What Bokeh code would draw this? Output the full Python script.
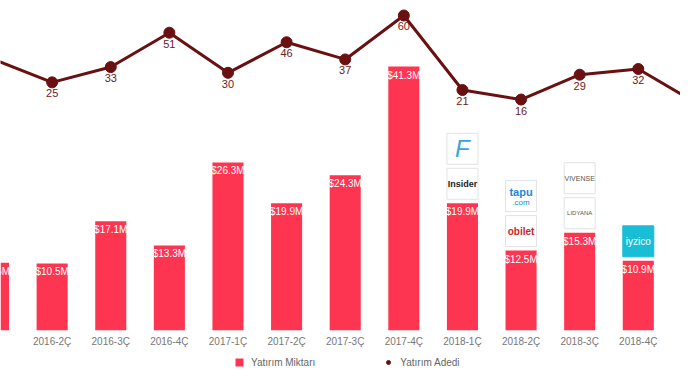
from bokeh.plotting import figure
from bokeh.layouts import column
from bokeh.models import Range1d, LinearAxis, FixedTicker, Legend, LegendItem, ColumnDataSource
from bokeh.core.properties import value
from bokeh.embed import file_html
from bokeh.resources import INLINE

# ---- data ----
quarters = ["2016-1Ç", "2016-2Ç", "2016-3Ç", "2016-4Ç", "2017-1Ç", "2017-2Ç", "2017-3Ç",
            "2017-4Ç", "2018-1Ç", "2018-2Ç", "2018-3Ç", "2018-4Ç", "2019-1Ç"]
amounts = [10.6, 10.5, 17.1, 13.3, 26.3, 19.9, 24.3, 41.3, 19.9, 12.5, 15.3, 10.9, 19.7]
counts = [37, 25, 33, 51, 30, 46, 37, 60, 21, 16, 29, 32, 14]
series_names = ["Yatırım Miktarı", "Yatırım Adedi"]

logo_quarter = ["2018-1Ç", "2018-1Ç", "2018-2Ç", "2018-2Ç", "2018-3Ç", "2018-3Ç", "2018-4Ç", "2019-1Ç"]
logo_slot = [1, 0, 1, 0, 1, 0, 0, 0]
logo_name = ["F", "Insider", "tapu", "obilet", "VIVENSE", "LIDYANA", "iyzico", "moda"]
logo_sub = ["", "", ".com", "", "", "", "", "."]

FONT = "Liberation Sans"
BAR_COLOR = "#fe3550"
LINE_COLOR = "#6a1010"

idx = list(range(len(quarters)))
amount_labels = [f"${a}M" for a in amounts]

FRAME_H = 330
Y_TOP = 51.63
p = figure(frame_width=680, frame_height=FRAME_H, x_range=Range1d(0.119, 11.72),
           y_range=Range1d(0, Y_TOP),
           x_axis_type=None, y_axis_type=None, output_backend="svg", toolbar_location=None,
           min_border_left=0, min_border_right=0, min_border_top=0, min_border_bottom=0,
           outline_line_color=None)
p.grid.visible = False

src = ColumnDataSource(dict(x=idx, amt=amounts, lab=amount_labels, cnt=counts,
                            clab=[str(c) for c in counts]))

bars = p.vbar(x="x", top="amt", width=0.53, source=src, fill_color=BAR_COLOR, line_color=None)
p.text(x="x", y="amt", text="lab", source=src, text_align="center", text_baseline="top",
       y_offset=3, text_color="white", text_font=value(FONT), text_font_size="10px")

# logos
ppu = FRAME_H / Y_TOP
lx, ly = [], []
for q, s in zip(logo_quarter, logo_slot):
    i = quarters.index(q)
    lx.append(i)
    ly.append(amounts[i] + (4 + 15.5 + s * 35) / ppu)
fills = {"iyzico": "#19bdd6"}
tcolors = {"F": "#3aa3dc", "Insider": "#222222", "tapu": "#1b87d6", "obilet": "#cc1f2a",
           "VIVENSE": "#555555", "LIDYANA": "#555555", "iyzico": "#ffffff", "moda": "#333333"}
subcolors = {"tapu": "#1b87d6", "moda": "#cc1f2a"}
tsizes = {"F": "24px", "Insider": "9px", "tapu": "11px", "obilet": "10px", "VIVENSE": "7px",
          "LIDYANA": "6px", "iyzico": "10px", "moda": "8px"}
styles = {"F": "italic", "Insider": "bold", "tapu": "bold", "obilet": "bold", "VIVENSE": "normal",
          "LIDYANA": "normal", "iyzico": "normal", "moda": "normal"}
lsrc = ColumnDataSource(dict(x=lx, y=ly, name=logo_name, sub=logo_sub,
                             fill=[fills.get(n, "#ffffff") for n in logo_name],
                             line=["#19bdd6" if n in fills else "#e3e3e3" for n in logo_name],
                             tc=[tcolors[n] for n in logo_name],
                             sc=[subcolors.get(n, "#333333") for n in logo_name],
                             ts=[tsizes[n] for n in logo_name],
                             st=[styles[n] for n in logo_name],
                             yo=[-4 if s else 0 for s in logo_sub]))
p.rect(x="x", y="y", width=31, height=31, width_units="screen", height_units="screen",
       source=lsrc, fill_color="fill", line_color="line", line_width=1)
p.text(x="x", y="y", text="name", source=lsrc, text_align="center", text_baseline="middle",
       y_offset="yo", text_color="tc", text_font_size="ts", text_font=value(FONT),
       text_font_style="st")
p.text(x="x", y="y", text="sub", source=lsrc, text_align="center", text_baseline="middle",
       y_offset=6, text_color="sc", text_font_size="8px", text_font=value(FONT))

# line (count)
p.extra_y_ranges = {"cnt": Range1d(-104.9, 67.85)}
p.line(x="x", y="cnt", source=src, y_range_name="cnt", line_color=LINE_COLOR, line_width=3)
pts = p.scatter(x="x", y="cnt", source=src, y_range_name="cnt", size=11,
                fill_color=LINE_COLOR, line_color=LINE_COLOR)
p.text(x="x", y="cnt", text="clab", source=src, y_range_name="cnt", text_align="center",
       text_baseline="top", y_offset=7, text_color="#6e2020", text_font=value(FONT),
       text_font_size="11px")

xaxis = LinearAxis(ticker=FixedTicker(ticks=idx),
                   major_label_overrides={i: q for i, q in zip(idx, quarters)})
xaxis.axis_line_color = None
xaxis.major_tick_line_color = None
xaxis.minor_tick_line_color = None
xaxis.major_tick_out = 0
xaxis.major_tick_in = 0
xaxis.major_label_standoff = 5
xaxis.major_label_text_color = "#777777"
xaxis.major_label_text_font = FONT
xaxis.major_label_text_font_size = "10px"
p.add_layout(xaxis, "below")

# legend strip: a small figure whose proxy renderers sit outside its visible ranges
lg = figure(width=680, height=22, x_range=Range1d(0, 1), y_range=Range1d(0, 1),
            x_axis_type=None, y_axis_type=None, output_backend="svg", toolbar_location=None,
            min_border=0, outline_line_color=None)
lg.grid.visible = False
proxy = ColumnDataSource(dict(x=[-5], y=[-5]))
lb = lg.vbar(x="x", top="y", width=0.1, source=proxy, fill_color=BAR_COLOR, line_color=None)
lp = lg.scatter(x="x", y="y", source=proxy, size=9, fill_color=LINE_COLOR, line_color=LINE_COLOR)
legend = Legend(items=[LegendItem(label=series_names[0], renderers=[lb]),
                       LegendItem(label=series_names[1], renderers=[lp])],
                orientation="horizontal", location=(234, 3), border_line_color=None,
                label_text_font=FONT, label_text_font_size="10px", label_text_color="#666666",
                glyph_width=10, glyph_height=10, label_height=12, spacing=68, padding=2, margin=0,
                label_standoff=7, background_fill_alpha=0)
lg.add_layout(legend, "center")

open("out.html", "w").write(file_html(column(p, lg, spacing=0), INLINE))
